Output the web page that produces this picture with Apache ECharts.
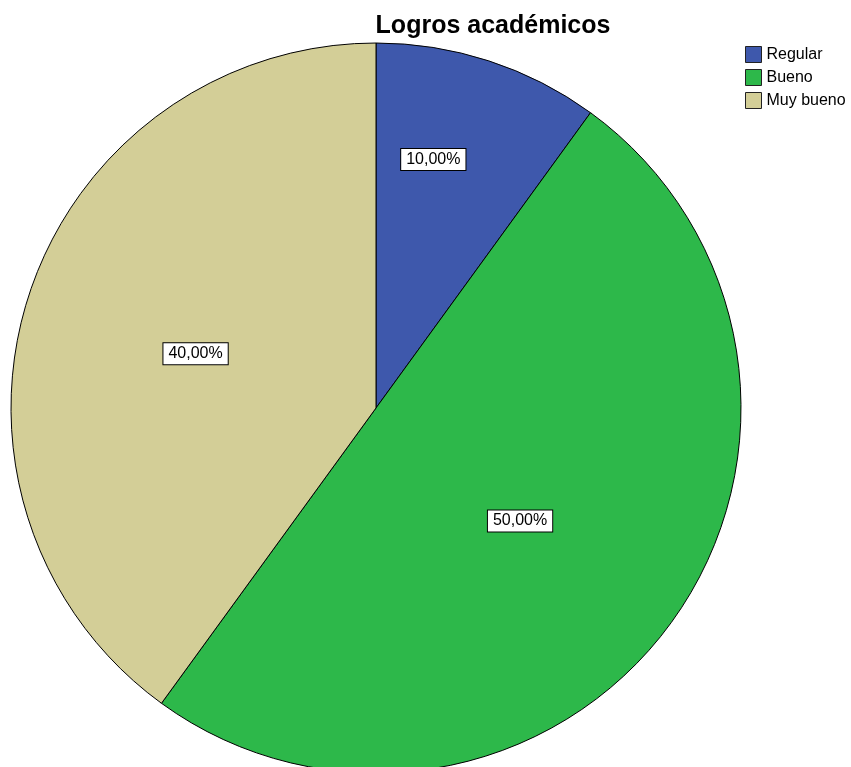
<!DOCTYPE html>
<html>
<head>
<meta charset="utf-8">
<script src="https://cdn.jsdelivr.net/npm/echarts@6/dist/echarts.min.js"></script>
<style>
  html, body { margin: 0; padding: 0; background: #fff; }
  #chart { width: 851px; height: 767px; }
</style>
</head>
<body>
<div id="chart"></div>
<script>
const categories = ["Regular", "Bueno", "Muy bueno"];
const percentages = [10, 50, 40];
const colors = ["#3e58ac", "#2db84a", "#d3ce97"];

const chart = echarts.init(document.getElementById("chart"));

// nudges so the value boxes sit where the original puts them
const labelNudge = [{ dx: 0, dy: -72 }, { dx: -6, dy: 4 }, { dx: -4, dy: 3 }];

const option = {
  backgroundColor: "#fff",
  title: {
    text: "Logros académicos",
    left: 488,
    textAlign: "center",
    top: 9,
    textStyle: {
      fontFamily: "Liberation Sans",
      fontSize: 25,
      fontWeight: "bold",
      color: "#000",
    },
  },
  legend: {
    orient: "vertical",
    left: 745,
    top: 46,
    padding: 0,
    itemWidth: 16,
    itemHeight: 16,
    itemGap: 6,
    itemStyle: { borderColor: "#222", borderWidth: 1 },
    icon: "rect",
    textStyle: { fontFamily: "Liberation Sans", fontSize: 16, color: "#000" },
    data: categories,
  },
  series: [
    {
      type: "pie",
      center: [376, 408],
      radius: 365,
      startAngle: 90,
      clockwise: true,
      silent: true,
      animation: false,
      itemStyle: { borderColor: "#000", borderWidth: 1 },
      label: {
        show: true,
        position: "inside",
        formatter: (p) => p.value.toFixed(2).replace(".", ",") + "%",
        fontFamily: "Liberation Sans",
        fontSize: 16,
        color: "#000",
        backgroundColor: "#fff",
        borderColor: "#000",
        borderWidth: 1,
        padding: [3, 5, 2, 5],
      },
      labelLayout: (params) => labelNudge[params.dataIndex],
      data: categories.map((name, i) => ({
        name: name,
        value: percentages[i],
        itemStyle: { color: colors[i] },
      })),
    },
  ],
};

chart.setOption(option);
</script>
</body>
</html>
